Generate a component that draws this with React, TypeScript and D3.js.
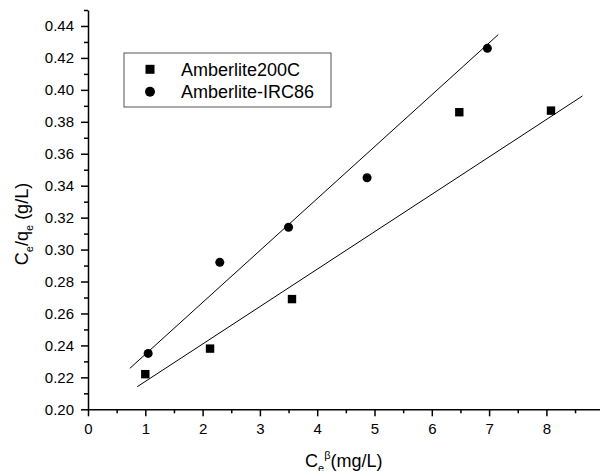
import React, { useEffect, useRef } from 'react';
import * as d3 from 'd3';

// Amberlite200C (squares)
const sqX = [1.0, 2.13, 3.56, 6.48, 8.08];
const sqY = [0.222, 0.238, 0.269, 0.386, 0.387];
// Amberlite-IRC86 (circles)
const ciX = [1.05, 2.3, 3.5, 4.87, 6.97];
const ciY = [0.235, 0.292, 0.314, 0.345, 0.426];

// fitted lines: [x0, x1], slope, intercept
const sqFit = { x: [0.86, 8.63], slope: 0.02343, intercept: 0.194 };
const ciFit = { x: [0.73, 7.16], slope: 0.0325, intercept: 0.2019 };

const legendNames = ['Amberlite200C', 'Amberlite-IRC86'];

const App = () => {
  const svgRef = useRef<SVGSVGElement>(null);

  useEffect(() => {
    const svg = d3.select(svgRef.current);
    svg.selectAll('*').remove();

    const width = 600;
    const height = 471;
    const font = 'Liberation Sans, Arial, sans-serif';

    const xScale = d3.scaleLinear().domain([0, 9]).range([88, 603.7]);
    const yScale = d3.scaleLinear().domain([0.2, 0.45]).range([409.3, 10]);

    const ctr = svg.append('g');

    // x axis
    const xAxis = ctr.append('g').attr('transform', `translate(0, ${yScale(0.2)})`);
    xAxis.call(d3.axisBottom(xScale).tickValues(d3.range(0, 10, 1)).tickSize(7).tickSizeOuter(0).tickPadding(7).tickFormat(d3.format('d')));
    xAxis.append('g').call(d3.axisBottom(xScale).tickValues(d3.range(0.5, 9, 1)).tickSize(4).tickSizeOuter(0).tickFormat(() => ''))
      .select('.domain').remove();

    // y axis
    const yAxis = ctr.append('g').attr('transform', `translate(${xScale(0)}, 0)`);
    yAxis.call(d3.axisLeft(yScale).tickValues(d3.range(0, 13).map(i => 0.2 + i * 0.02)).tickSize(7).tickSizeOuter(0).tickPadding(7).tickFormat(d3.format('.2f')));
    yAxis.append('g').call(d3.axisLeft(yScale).tickValues(d3.range(0, 13).map(i => 0.21 + i * 0.02)).tickSize(4).tickSizeOuter(0).tickFormat(() => ''))
      .select('.domain').remove();

    svg.selectAll('.domain, .tick line').attr('stroke', '#000').attr('stroke-width', 1.5);
    svg.selectAll('.tick text').attr('font-family', font).attr('font-size', 15).attr('fill', '#000');

    // fit lines
    [sqFit, ciFit].forEach(f => {
      ctr.append('line')
        .attr('x1', xScale(f.x[0])).attr('y1', yScale(f.intercept + f.slope * f.x[0]))
        .attr('x2', xScale(f.x[1])).attr('y2', yScale(f.intercept + f.slope * f.x[1]))
        .attr('stroke', '#000').attr('stroke-width', 1);
    });

    // points
    ctr.selectAll('rect.pt').data(sqX.map((x, i) => [x, sqY[i]])).join('rect')
      .attr('class', 'pt')
      .attr('x', d => xScale(d[0]) - 4.2).attr('y', d => yScale(d[1]) - 4.2)
      .attr('width', 8.4).attr('height', 8.4).attr('fill', '#000');
    ctr.selectAll('circle.pt').data(ciX.map((x, i) => [x, ciY[i]])).join('circle')
      .attr('class', 'pt')
      .attr('cx', d => xScale(d[0])).attr('cy', d => yScale(d[1]))
      .attr('r', 4.5).attr('fill', '#000');

    // legend
    const lg = ctr.append('g');
    lg.append('rect').attr('x', 124).attr('y', 53).attr('width', 207).attr('height', 54)
      .attr('fill', 'none').attr('stroke', '#555').attr('stroke-width', 1);
    lg.append('rect').attr('x', 145.5).attr('y', 64.8).attr('width', 9).attr('height', 9).attr('fill', '#000');
    lg.append('circle').attr('cx', 150).attr('cy', 91.7).attr('r', 5).attr('fill', '#000');
    legendNames.forEach((n, i) => {
      lg.append('text').attr('x', 181).attr('y', 75.8 + i * 22.4).text(n)
        .attr('font-family', font).attr('font-size', 18).attr('fill', '#000');
    });

    // x label
    const xl = ctr.append('text').attr('x', 305).attr('y', 467)
      .attr('font-family', font).attr('font-size', 18).attr('fill', '#000');
    xl.append('tspan').text('C');
    xl.append('tspan').text('e').attr('font-size', 11).attr('dy', 5);
    xl.append('tspan').text('β').attr('font-size', 11).attr('dy', -13);
    xl.append('tspan').text('(mg/L)').attr('dy', 8);

    // y label
    const yl = ctr.append('text').attr('transform', `translate(28, 224) rotate(-90)`)
      .attr('text-anchor', 'middle')
      .attr('font-family', font).attr('font-size', 18).attr('fill', '#000');
    yl.append('tspan').text('C');
    yl.append('tspan').text('e').attr('font-size', 11).attr('dy', 5);
    yl.append('tspan').text('/q').attr('dy', -5);
    yl.append('tspan').text('e').attr('font-size', 11).attr('dy', 5);
    yl.append('tspan').text(' (g/L)').attr('dy', -5);

    svg.attr('width', width).attr('height', height);
  }, []);

  return (
    <svg ref={svgRef} style={{ position: 'absolute', left: 0, top: 0, background: '#fff' }}></svg>
  );
};

export default App;
